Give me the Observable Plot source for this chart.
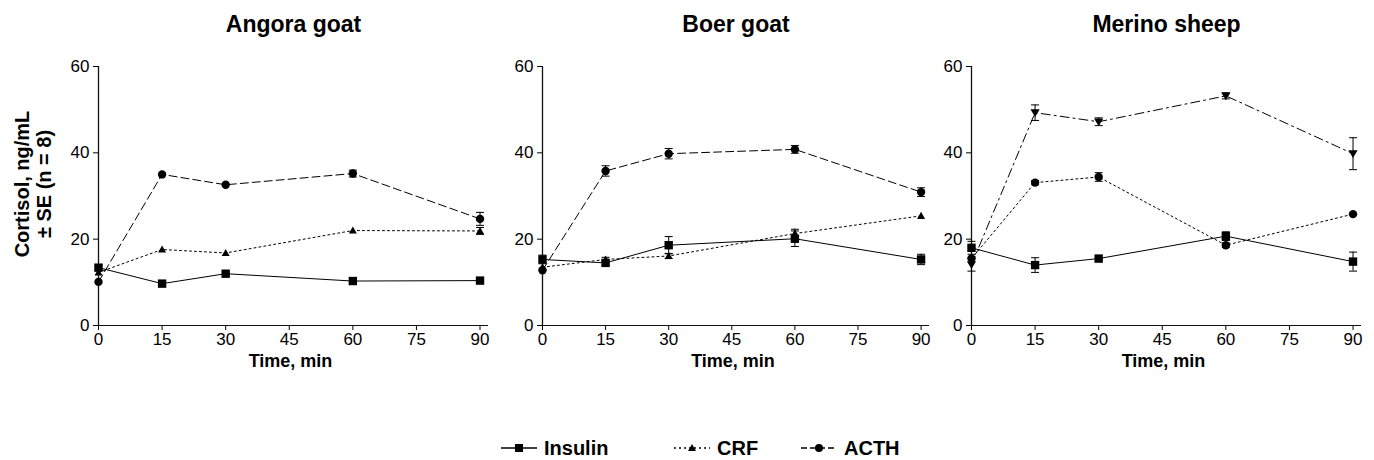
<!DOCTYPE html>
<html>
<head>
<meta charset="utf-8">
<script src="https://cdn.jsdelivr.net/npm/d3@7"></script>
<script src="https://cdn.jsdelivr.net/npm/@observablehq/plot@0.6"></script>
<style>
  body { margin: 0; background: #fff; font-family: "Liberation Sans", Arial, sans-serif; }
  #wrap { position: relative; width: 1374px; height: 460px; overflow: hidden; background: #fff; }
  .panel { position: absolute; top: 0; }
  .leg { position: absolute; top: 436px; height: 24px; display: flex; align-items: center; font-weight: bold; font-size: 20px; color: #000; }
  .leg svg { display: block; margin-right: 6px; }
</style>
</head>
<body>
<div id="wrap"></div>
<script>
// ---------------- data ----------------
const times = [0, 15, 30, 60, 90];
const xTicks = [0, 15, 30, 45, 60, 75, 90];
const yTicks = [0, 20, 40, 60];
const panels = ["Angora goat", "Boer goat", "Merino sheep"];
const seriesNames = ["Insulin", "CRF", "ACTH"];

// Angora goat
const angoraInsulin   = [13.4, 9.7, 12.0, 10.3, 10.4];
const angoraInsulinSE = [0.6, 0, 0, 0, 0];
const angoraCRF       = [12.3, 17.6, 16.8, 22.0, 21.9];
const angoraCRFSE     = [0, 0, 0, 0, 0.8];
const angoraACTH      = [10.1, 35.0, 32.6, 35.2, 24.7];
const angoraACTHSE    = [0, 0, 0, 0.8, 1.5];

// Boer goat
const boerInsulin   = [15.3, 14.5, 18.6, 20.1, 15.3];
const boerInsulinSE = [1.0, 0.6, 2.0, 1.8, 1.2];
const boerCRF       = [13.5, 15.3, 16.1, 21.3, 25.4];
const boerCRFSE     = [0, 0.5, 0.6, 1.0, 0];
const boerACTH      = [12.8, 35.8, 39.8, 40.8, 30.9];
const boerACTHSE    = [0, 1.2, 1.2, 0.9, 1.0];

// Merino sheep
const merinoInsulin   = [18.0, 14.0, 15.5, 20.7, 14.8];
const merinoInsulinSE = [1.5, 1.7, 0, 1.0, 2.2];
const merinoCRF       = [15.5, 33.1, 34.4, 18.6, 25.8];
const merinoCRFSE     = [0, 0.5, 1.0, 0.5, 0];
const merinoACTH      = [14.1, 49.3, 47.2, 53.2, 39.8];
const merinoACTHSE    = [1.5, 1.8, 0.9, 0.7, 3.7];

const yLabel = "Cortisol, ng/mL\n± SE (n = 8)";
const xLabel = "Time, min";

// ---------------- build tables ----------------
const panelData = {
  "Angora goat": {Insulin: [angoraInsulin, angoraInsulinSE], CRF: [angoraCRF, angoraCRFSE], ACTH: [angoraACTH, angoraACTHSE]},
  "Boer goat": {Insulin: [boerInsulin, boerInsulinSE], CRF: [boerCRF, boerCRFSE], ACTH: [boerACTH, boerACTHSE]},
  "Merino sheep": {Insulin: [merinoInsulin, merinoInsulinSE], CRF: [merinoCRF, merinoCRFSE], ACTH: [merinoACTH, merinoACTHSE]}
};

// ---------------- symbols ----------------
const rad = (size) => Math.sqrt(size / Math.PI);
const capSym = {draw(ctx, size) { const r = rad(size); ctx.moveTo(-r, 0); ctx.lineTo(r, 0); }};
const triUp = {draw(ctx, size) { const r = rad(size); ctx.moveTo(0, -r * 1.05); ctx.lineTo(r * 1.05, r * 0.8); ctx.lineTo(-r * 1.05, r * 0.8); ctx.closePath(); }};
const triDown = {draw(ctx, size) { const r = rad(size); ctx.moveTo(0, r * 1.05); ctx.lineTo(r * 1.1, -r * 0.8); ctx.lineTo(-r * 1.1, -r * 0.8); ctx.closePath(); }};
const sq = {draw(ctx, size) { const r = rad(size); ctx.rect(-r, -r, 2 * r, 2 * r); }};
const circ = {draw(ctx, size) { const r = rad(size); ctx.moveTo(r, 0); ctx.arc(0, 0, r, 0, 2 * Math.PI); }};

const styleFor = {
  "Angora goat":  {Insulin: {sym: sq, r: 4.2, dash: null}, CRF: {sym: triUp, r: 3.8, dash: "2,3"}, ACTH: {sym: circ, r: 4.2, dash: "8,4"}},
  "Boer goat":    {Insulin: {sym: sq, r: 4.2, dash: null}, CRF: {sym: triUp, r: 3.8, dash: "2,3"}, ACTH: {sym: circ, r: 4.2, dash: "8,4"}},
  "Merino sheep": {Insulin: {sym: sq, r: 4.2, dash: null}, CRF: {sym: circ, r: 4.2, dash: "2,3"}, ACTH: {sym: triDown, r: 4.2, dash: "9,4,2,4"}}
};

// layout per panel: left edge of frame, px-per-minute
const layout = [
  {frameLeft: 98, pxPerUnit: 382 / 90},
  {frameLeft: 541.7, pxPerUnit: 379 / 90},
  {frameLeft: 970.7, pxPerUnit: 381.7 / 90}
];
const XMAX = 92;
const FONT = "'Liberation Sans', Arial, Helvetica, sans-serif";

const wrap = document.getElementById("wrap");

panels.forEach((p, i) => {
  const L = layout[i];
  const marginLeft = i === 0 ? 98 : 55;
  const frameW = XMAX * L.pxPerUnit;
  const marginRight = 10;
  const width = Math.round(marginLeft + frameW + marginRight);
  const marks = [];

  seriesNames.forEach((s) => {
    const [vals, ses] = panelData[p][s];
    const st = styleFor[p][s];
    const rows = times.map((t, k) => ({t, v: vals[k], se: ses[k], series: s}));
    const eb = rows.filter((d) => d.se > 0);
    marks.push(Plot.line(rows, {x: "t", y: "v", stroke: "#000", strokeWidth: 1, strokeDasharray: st.dash ?? undefined}));
    marks.push(Plot.ruleX(eb, {x: "t", y1: (d) => d.v - d.se, y2: (d) => d.v + d.se, stroke: "#000", strokeWidth: 1}));
    marks.push(Plot.dot(eb, {x: "t", y: (d) => d.v - d.se, symbol: capSym, r: 4, stroke: "#000", strokeWidth: 1}));
    marks.push(Plot.dot(eb, {x: "t", y: (d) => d.v + d.se, symbol: capSym, r: 4, stroke: "#000", strokeWidth: 1}));
    marks.push(Plot.dot(rows, {x: "t", y: "v", symbol: st.sym, r: st.r, fill: "#000", stroke: "none"}));
  });

  const plot = Plot.plot({
    width,
    height: 371,
    marginLeft,
    marginRight,
    marginTop: 66,
    marginBottom: 46,
    style: {background: "transparent", fontFamily: FONT, fontSize: "17px", color: "#000", overflow: "visible"},
    x: {domain: [0, XMAX]},
    y: {domain: [0, 60]},
    marks: [
      Plot.axisX({ticks: xTicks, tickSize: 5, tickPadding: 2, fontSize: 17, label: null, stroke: "#000", fill: "#000"}),
      Plot.axisY({ticks: yTicks, tickSize: 5, tickPadding: 4, fontSize: 17, label: null, stroke: "#000", fill: "#000"}),
      Plot.ruleY([0], {stroke: "#111", strokeWidth: 1.2}),
      Plot.ruleX([0], {stroke: "#111", strokeWidth: 1.3}),
      ...marks,
      Plot.text([p], {frameAnchor: "top", dy: -35, lineAnchor: "bottom", fontSize: 23, fontWeight: "bold", fill: "#000"}),
      Plot.text([xLabel], {frameAnchor: "bottom", dx: -3, dy: 41, lineAnchor: "bottom", fontSize: 18, fontWeight: "bold", fill: "#000"}),
      ...(i === 0 ? [Plot.text([yLabel], {frameAnchor: "left", dx: -66, dy: -12, rotate: -90, textAnchor: "middle", lineAnchor: "middle", lineHeight: 1.1, fontSize: 20, fontWeight: "bold", fill: "#000"})] : [])
    ]
  });
  plot.classList.add("panel");
  plot.style.left = (L.frameLeft - marginLeft) + "px";
  wrap.appendChild(plot);
});

// ---------------- legend ----------------
const legendItems = [
  {name: "Insulin", left: 500, dash: null, sym: "square"},
  {name: "CRF", left: 673, dash: "2,3", sym: "triangle"},
  {name: "ACTH", left: 800, dash: "6,3", sym: "circle"}
];
legendItems.forEach((it) => {
  const div = document.createElement("div");
  div.className = "leg";
  div.style.left = it.left + "px";
  let mark = "";
  if (it.sym === "square") mark = '<rect x="15" y="6" width="8" height="8" fill="#000"/>';
  else if (it.sym === "triangle") mark = '<path d="M19,6 L23,13 L15,13 Z" fill="#000"/>';
  else mark = '<circle cx="19" cy="10" r="4" fill="#000"/>';
  const dash = it.dash ? ` stroke-dasharray="${it.dash}"` : "";
  div.innerHTML = `<svg width="38" height="20"><line x1="1" x2="37" y1="10" y2="10" stroke="#000" stroke-width="1.3"${dash}/>${mark}</svg><span>${it.name}</span>`;
  wrap.appendChild(div);
});
</script>
</body>
</html>
